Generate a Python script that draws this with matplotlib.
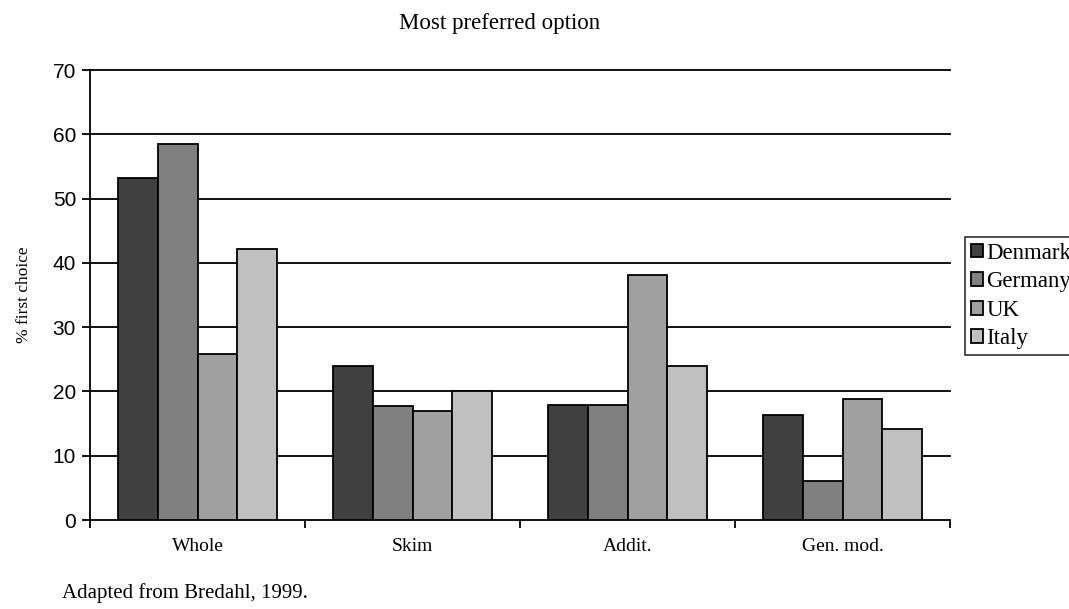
import matplotlib
matplotlib.use("Agg")
import matplotlib.pyplot as plt
import numpy as np

categories = ["Whole", "Skim", "Addit.", "Gen. mod."]
series_names = ["Denmark", "Germany", "UK", "Italy"]
denmark = [53.2, 24.0, 17.9, 16.3]
germany = [58.5, 17.8, 17.9, 6.1]
uk = [25.8, 17.0, 38.1, 18.8]
italy = [42.1, 20.0, 24.0, 14.2]
yticks = [0, 10, 20, 30, 40, 50, 60, 70]

colors = ["#404040", "#808080", "#a0a0a0", "#c0c0c0"]
serif = ["Liberation Serif", "DejaVu Serif"]
sans = ["Liberation Sans", "DejaVu Sans"]

fig = plt.figure(figsize=(10.69, 6.09), dpi=100)
ax = fig.add_axes([0.0842, 0.1461, 0.8045, 0.7389])

x = np.arange(len(categories))
bw = 0.184
data = [denmark, germany, uk, italy]
for i, (vals, name, c) in enumerate(zip(data, series_names, colors)):
    ax.bar(x + (i - 1.5) * bw, vals, bw, color=c, edgecolor="black",
           linewidth=1.3, label=name, zorder=3)

ax.set_xlim(-0.5, len(categories) - 0.5)
ax.set_ylim(0, 70)
ax.set_yticks(yticks)
ax.set_yticklabels([str(t) for t in yticks], fontfamily=sans, fontsize=15)
for t in yticks[1:]:
    ax.axhline(t, color="black", linewidth=1.3, zorder=1, clip_on=False)

ax.set_xticks(x)
ax.set_xticklabels(categories, fontfamily=serif, fontsize=14)
ax.tick_params(axis="x", length=0, pad=13)
ax.set_xticks(np.arange(len(categories) + 1) - 0.5, minor=True)
ax.tick_params(axis="x", which="minor", length=6, width=1.3, direction="out")
ax.tick_params(axis="y", length=6, width=1.3, direction="out", pad=4)

for s in ["top", "right"]:
    ax.spines[s].set_visible(False)
for s in ["left", "bottom"]:
    ax.spines[s].set_linewidth(1.3)

ax.set_ylabel("% first choice", fontfamily=serif, fontsize=12.5)
ax.yaxis.set_label_coords(-0.068, 0.5)
fig.text(0.4675, 0.962, "Most preferred option", fontfamily=serif, fontsize=16.5,
         ha="center", va="center")
fig.text(0.058, 0.027, "Adapted from Bredahl, 1999.", fontfamily=serif,
         fontsize=15, ha="left", va="center")

leg = fig.legend(loc="center left", bbox_to_anchor=(0.9025, 0.514),
                 prop={"family": serif, "size": 16.5}, frameon=True,
                 fancybox=False, edgecolor="black", handlelength=0.55,
                 handleheight=0.55, handletextpad=0.15, labelspacing=0.33,
                 borderpad=0.25, borderaxespad=0)
leg.get_frame().set_linewidth(1.2)

fig.savefig("out.png", dpi=100)
